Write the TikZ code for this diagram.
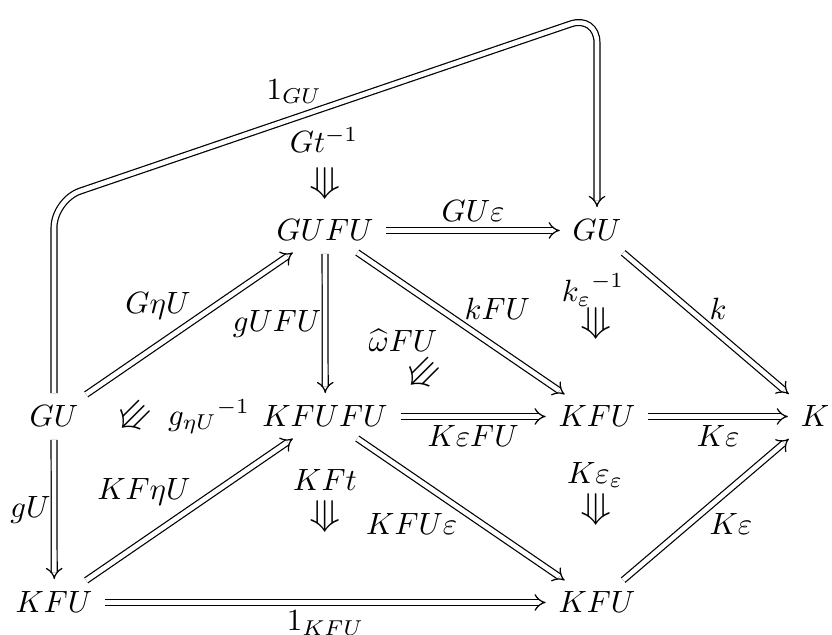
\documentclass[tikz,border=0pt]{standalone}
\usepackage{amsmath,amssymb}
\usetikzlibrary{arrows.meta}
\newcommand{\tripar}{\scalebox{1.2}[1.25]{$\Rrightarrow$}}
\begin{document}
\begin{tikzpicture}[x=0.325pt,y=-0.325pt,
  obj/.style={anchor=base, inner sep=3pt},
  dbl/.style={double, double distance=1.5pt, line width=0.4pt, -{Implies}, shorten <=1pt, shorten >=1pt},
  lbl/.style={auto, inner sep=1pt},
  hlbl/.style={auto, inner sep=2.6pt},
  cell/.style={inner sep=0pt},
  tri/.style={inner sep=0pt},
]
\useasboundingbox (0,0) rectangle (832,635);
% objects
\node[obj] (GUl) at (54,427) {$GU$};
\node[obj] (GUFU) at (325,241) {$GUFU$};
\node[obj] (GUr) at (597,241) {$GU$};
\node[obj] (KFUFU) at (325,427) {$KFUFU$};
\node[obj] (KFUm) at (597,427) {$KFU$};
\node[obj] (K) at (815,427) {$K$};
\node[obj] (KFUbl) at (54,613) {$KFU$};
\node[obj] (KFUbr) at (597,613) {$KFU$};
% loop
\coordinate (c1) at (GUl |- 0,200);
\coordinate (c2) at (GUr |- 0,15);
\draw[dbl, rounded corners=9] (GUl) -- (c1) -- node[pos=0.5, anchor=south east, inner sep=1pt] {$1_{GU}$} (c2) -- (GUr);
% arrows
\draw[dbl] (GUFU) -- node[hlbl] {$GU\varepsilon$} (GUr);
\draw[dbl] (GUr) -- node[lbl] {$k$} (K);
\draw[dbl] (GUFU.south) -- node[lbl, swap] {$gUFU$} ([xshift=0.08pt]KFUFU.north);
\draw[dbl] (GUFU) -- node[lbl] {$kFU$} (KFUm);
\draw[dbl] (GUl) -- node[lbl, xshift=1.5pt] {$G\eta U$} (GUFU);
\draw[dbl] (GUl.south) -- node[lbl, swap] {$gU$} ([xshift=0.08pt]KFUbl.north);
\draw[dbl] (KFUbl) -- node[lbl, xshift=1.5pt] {$KF\eta U$} (KFUFU);
\draw[dbl] (KFUFU) -- node[hlbl, swap] {$K\varepsilon FU$} (KFUm);
\draw[dbl] (KFUm) -- node[hlbl, swap] {$K\varepsilon$} (K);
\draw[dbl] (KFUFU) -- node[lbl, swap] {$KFU\varepsilon$} (KFUbr);
\draw[dbl] (KFUbl) -- node[hlbl, swap] {$1_{KFU}$} (KFUbr);
\draw[dbl] (KFUbr) -- node[lbl, swap] {$K\varepsilon$} (K);
% 3-cells
\node[cell] (Gt) at (324,140) {$Gt^{-1}$};
\node[tri, rotate=-90] (Gtar) at (325,184) {\tripar};
\node[cell] (ke) at (593,290) {${k_{\varepsilon}}^{-1}$};
\node[tri, rotate=-90] (kear) at (596,324) {\tripar};
\node[cell] (om) at (403,340) {$\widehat{\omega}FU$};
\node[tri, rotate=-135] (omar) at (422,374) {\tripar};
\node[tri, rotate=-135] (gar) at (133,417) {\tripar};
\node[cell] (g) at (209,417) {${g_{\eta U}}^{-1}$};
\node[cell] (KFt) at (325,480) {$KFt$};
\node[tri, rotate=-90] (KFtar) at (325,517) {\tripar};
\node[cell] (Kee) at (595,475) {$K\varepsilon_{\varepsilon}$};
\node[tri, rotate=-90] (Keear) at (596,510) {\tripar};
\end{tikzpicture}
\end{document}
